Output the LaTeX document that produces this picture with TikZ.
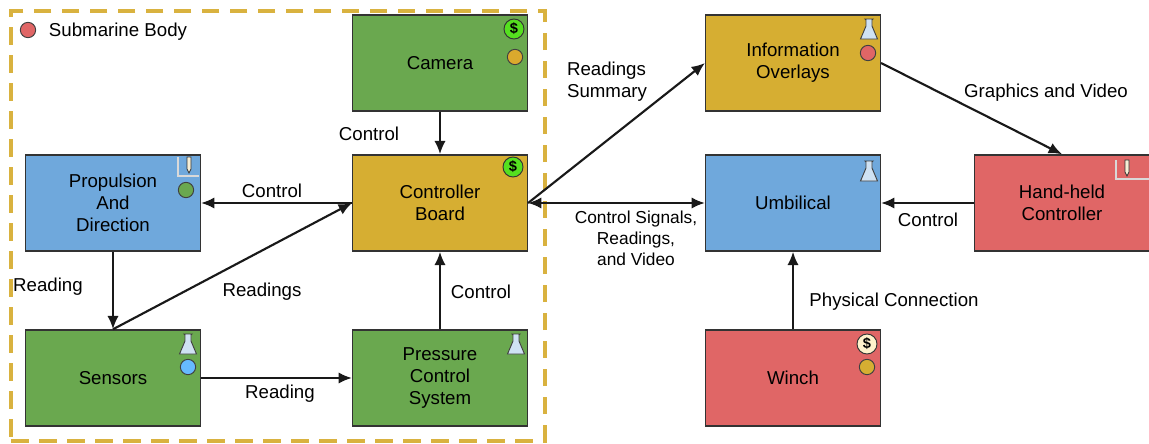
\documentclass[tikz,border=0pt]{standalone}
\usepackage{fontspec}
\setmainfont{Liberation Sans}
\usetikzlibrary{arrows.meta}
\definecolor{boxgreen}{HTML}{6AA84F}
\definecolor{boxblue}{HTML}{6FA8DC}
\definecolor{boxgold}{HTML}{D6AE32}
\definecolor{boxred}{HTML}{E06666}
\definecolor{dashgold}{HTML}{D9B23F}
\definecolor{edgegrey}{HTML}{333333}
\definecolor{flaskblue}{HTML}{CFE2F3}
\definecolor{moneygreen}{HTML}{55E01F}
\definecolor{moneypale}{HTML}{FFF2CC}
\tikzset{
  part/.style={draw=edgegrey,line width=1.1pt,minimum width=131pt,minimum height=72pt,inner sep=0pt,align=center,font=\fontsize{14}{16.5}\selectfont},
  lbl/.style={inner sep=0pt,align=center,yshift=-1pt,font=\fontsize{14}{16.5}\selectfont},
  smalllbl/.style={inner sep=0pt,align=center,font=\fontsize{13}{15.75}\selectfont},
  link/.style={line width=1.6pt,draw=black!90,-{Latex[length=10pt,width=8.5pt]}},
  dot/.style={circle,draw=black!75,line width=0.7pt,minimum size=11.5pt,inner sep=0pt},
  money/.style={circle,draw=black!80,line width=0.7pt,minimum size=15pt,inner sep=0pt,font=\fontsize{11}{11}\bfseries\selectfont},
  flask/.pic={
    \draw[fill=flaskblue,draw=black!75,line width=0.7pt] (-4,-10) -- (4,-10) -- (3,-9) -- (3,-3) -- (8.5,10) -- (-8.5,10) -- (-3,-3) -- (-3,-9) -- cycle;
  },
  toolmark/.pic={
    \draw[draw=black!75,double=white!85!black,double distance=0.9pt,line width=0.6pt] (0,0) -- (0,19) -- (#1,19);
    \draw[fill=white!80!boxgold,draw=black!80,line width=0.6pt] (9,0) -- (13,0) -- (13,12) -- (11,16) -- (9,12) -- cycle;
  }
}
\begin{document}
\begin{tikzpicture}[x=0.75pt,y=-0.75pt]
  \useasboundingbox (0,0) rectangle (1149,443);
  \node (frame) at (278,226) [draw=dashgold,line width=3pt,dash pattern=on 13pt off 8pt,minimum width=400pt,minimum height=322pt,inner sep=0pt] {};
  \node (bodydot) at (28,30) [dot,fill=boxred] {};
  \node (bodytxt) at (118,30) [lbl] {Submarine Body};

  \node[part,fill=boxgreen] (cam) at (440,63) {Camera};
  \node[part,fill=boxgold] (ctrl) at (440,203) {Controller\\Board};
  \node[part,fill=boxgreen] (press) at (440,378) {Pressure\\Control\\System};
  \node[part,fill=boxblue] (prop) at (113,203) {Propulsion\\And\\Direction};
  \node[part,fill=boxgreen] (sens) at (113,378) {Sensors};
  \node[part,fill=boxgold] (info) at (793,63) {Information\\Overlays};
  \node[part,fill=boxblue] (umb) at (793,203) {Umbilical};
  \node[part,fill=boxred] (winch) at (793,378) {Winch};
  \node[part,fill=boxred] (hand) at (1062,203) {Hand-held\\Controller};

  % marks in the corners
  \node[money,fill=moneygreen] (camcost) at (514,29) {\$};
  \node[dot,fill=boxgold!90!orange] (camdot) at (515,57) {};
  \node[money,fill=moneygreen] (ctrlcost) at (513,167) {\$};
  \node[money,fill=moneypale] (winchcost) at (867,344) {\$};
  \node[dot,fill=boxgold] (winchdot) at (867,367) {};
  \node[dot,fill=boxred] (infodot) at (868,53) {};
  \node[dot,fill=boxgreen] (propdot) at (186,190) {};
  \node[dot,fill=blue!45!cyan!60!white] (sensdot) at (188,367) {};
  \pic at (869,29) {flask};
  \pic at (869,171) {flask};
  \pic at (188,344) {flask};
  \pic at (516,344) {flask};
  \pic at (178,157) {toolmark=21};
  \pic at (1116,160) {toolmark=33};

  \draw[link] (cam) -- (ctrl);
  \draw[link] (press) -- (ctrl);
  \draw[link] (ctrl) -- (prop);
  \draw[link] (prop) -- (sens);
  \draw[link] (sens.east) -- (press.west);
  \draw[link] (sens.north) -- (ctrl.west);
  \draw[link] (ctrl.east) -- (info.west);
  \draw[link,{Latex[length=10pt,width=8.5pt]}-{Latex[length=10pt,width=8.5pt]}] (ctrl) -- (umb);
  \draw[link] (info.east) -- (hand.north);
  \draw[link] (hand) -- (umb);
  \draw[link] (winch) -- (umb);

  \node[lbl] (l1) at (369,132) {Control};
  \node[lbl] (l2) at (272,189) {Control};
  \node[lbl] (l3) at (48,285) {Reading};
  \node[lbl] (l4) at (262,290) {Readings};
  \node[lbl] (l5) at (481,290) {Control};
  \node[lbl] (l6) at (280,392) {Reading};
  \node[lbl,align=left] (l7) at (607,80) {Readings\\Summary};
  \node[lbl] (l8) at (1046,91) {Graphics and Video};
  \node[lbl] (l9) at (928,218) {Control};
  \node[lbl] (l10) at (894,300) {Physical Connection};
  \node[smalllbl] (l11) at (636,238) {Control Signals,\\Readings,\\and Video};
\end{tikzpicture}
\end{document}
